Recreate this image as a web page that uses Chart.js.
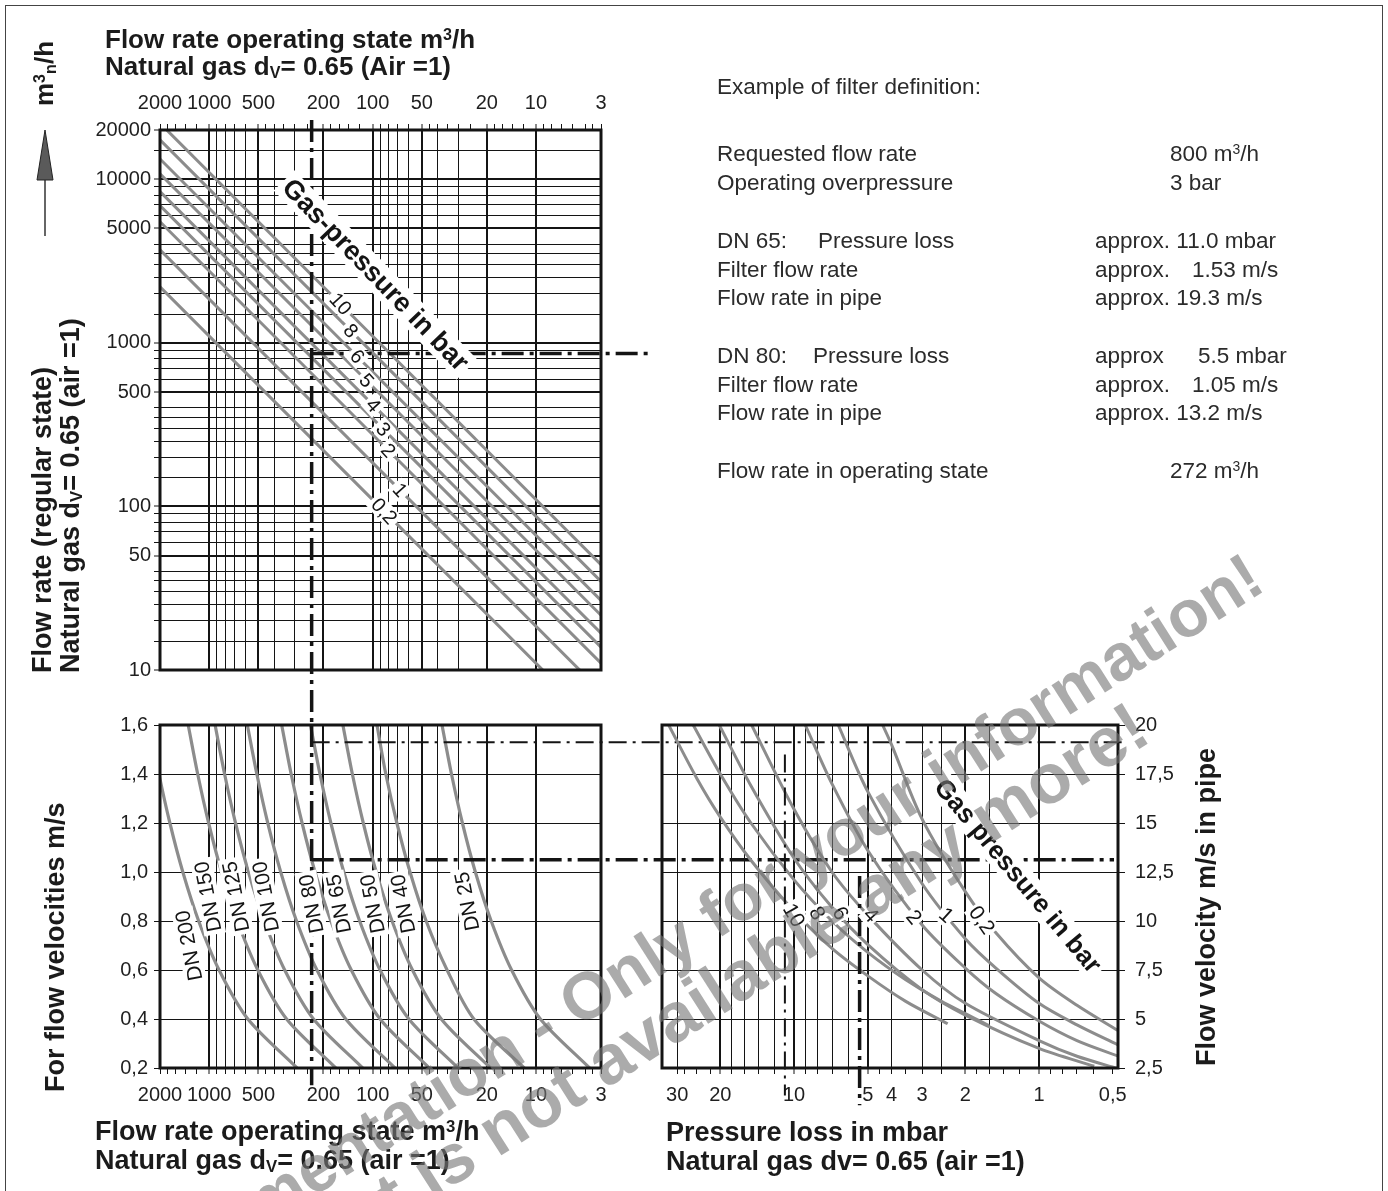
<!DOCTYPE html>
<html>
<head>
<meta charset="utf-8">
<title>Filter selection diagram</title>
<script src="https://cdn.jsdelivr.net/npm/chart.js@4.4.1/dist/chart.umd.min.js"></script>
<style>
  html, body { margin:0; padding:0; background:#fff; }
  #page { position:relative; width:1388px; height:1191px; overflow:hidden; background:#fff;
          font-family:'Liberation Sans', Arial, Helvetica, sans-serif; color:#1b1b1b; }
  #page canvas { position:absolute; left:0; top:0; }
  .border { position:absolute; left:5px; top:5px; width:1378px; height:1200px; border:1.5px solid #444; box-sizing:border-box; }
  .txt { position:absolute; white-space:nowrap; }
  .bold { font-weight:700; font-size:26px; line-height:27px; }
  .axt { font-weight:700; font-size:27px; line-height:28px; }
  .rot { transform-origin:0 0; transform:rotate(-90deg); }
  .info { font-size:22.5px; line-height:29px; color:#2b2b2b; }
  .wm { position:absolute; white-space:nowrap; font-weight:700; line-height:1;
        color:rgba(120,120,120,0.62); pointer-events:none; transform-origin:50% 50%; }
  sup { font-size:0.62em; vertical-align:0.5em; line-height:0; }
  sub { font-size:0.62em; vertical-align:-0.2em; line-height:0; }
</style>
</head>
<body>
<div id="page">
  <canvas id="cTop" width="1388" height="1191"></canvas>
  <canvas id="cVel" width="1388" height="1191"></canvas>
  <canvas id="cPipe" width="1388" height="1191"></canvas>
  <div class="border"></div>

  <!-- titles -->
  <div class="txt bold" style="left:105px; top:26px;">Flow rate operating state m<sup>3</sup>/h<br>Natural gas d<sub>V</sub>= 0.65 (Air =1)</div>
  <div class="txt bold rot" style="left:31px; top:106px;">m<sup>3</sup><sub>n</sub>/h</div>
  <svg style="position:absolute; left:30px; top:125px;" width="32" height="115">
    <line x1="15" y1="52" x2="15" y2="111" stroke="#333" stroke-width="1.5"/>
    <polygon points="7,55 23,55 15,5" fill="#5a5a5a" stroke="#222" stroke-width="1"/>
  </svg>
  <div class="txt axt rot" style="left:28px; top:673px;">Flow rate (regular state)<br>Natural gas d<sub>V</sub>= 0.65 (air =1)</div>
  <div class="txt axt rot" style="left:41px; top:1092px;">For flow velocities m/s</div>
  <div class="txt axt rot" style="left:1192px; top:1066px;">Flow velocity m/s in pipe</div>
  <div class="txt axt" style="left:95px; top:1117px; line-height:29px;">Flow rate operating state m<sup>3</sup>/h<br>Natural gas d<sub>V</sub>= 0.65 (air =1)</div>
  <div class="txt axt" style="left:666px; top:1118px; line-height:29px;">Pressure loss in mbar<br>Natural gas dv= 0.65 (air =1)</div>

  <!-- example block -->
  <div class="txt info" style="left:717px; top:72px;">Example of filter definition:</div>
  <div class="txt info" style="left:717px; top:139px;">Requested flow rate</div>
  <div class="txt info" style="left:1170px; top:139px;">800 m<sup>3</sup>/h</div>
  <div class="txt info" style="left:717px; top:168px;">Operating overpressure</div>
  <div class="txt info" style="left:1170px; top:168px;">3 bar</div>

  <div class="txt info" style="left:717px; top:226px;">DN 65:</div>
  <div class="txt info" style="left:818px; top:226px;">Pressure loss</div>
  <div class="txt info" style="left:1095px; top:226px;">approx. 11.0 mbar</div>
  <div class="txt info" style="left:717px; top:255px;">Filter flow rate</div>
  <div class="txt info" style="left:1095px; top:255px;">approx.</div>
  <div class="txt info" style="left:1192px; top:255px;">1.53 m/s</div>
  <div class="txt info" style="left:717px; top:283px;">Flow rate in pipe</div>
  <div class="txt info" style="left:1095px; top:283px;">approx. 19.3 m/s</div>

  <div class="txt info" style="left:717px; top:341px;">DN 80:</div>
  <div class="txt info" style="left:813px; top:341px;">Pressure loss</div>
  <div class="txt info" style="left:1095px; top:341px;">approx</div>
  <div class="txt info" style="left:1198px; top:341px;">5.5 mbar</div>
  <div class="txt info" style="left:717px; top:370px;">Filter flow rate</div>
  <div class="txt info" style="left:1095px; top:370px;">approx.</div>
  <div class="txt info" style="left:1192px; top:370px;">1.05 m/s</div>
  <div class="txt info" style="left:717px; top:398px;">Flow rate in pipe</div>
  <div class="txt info" style="left:1095px; top:398px;">approx. 13.2 m/s</div>

  <div class="txt info" style="left:717px; top:456px;">Flow rate in operating state</div>
  <div class="txt info" style="left:1170px; top:456px;">272 m<sup>3</sup>/h</div>

  <!-- watermark -->
  <div class="wm" id="wm1" style="font-size:66px;">Documentation - Only for your information!</div>
  <div class="wm" id="wm2" style="font-size:70px;">Product is not available any more!</div>
</div>

<script>
// ================= DATA =================
// --- Top diagram: operating flow (x, m³/h) vs regular flow (y, m³n/h)
const opFlowLabelValues = [2000, 1000, 500, 200, 100, 50, 20, 10, 4];
const opFlowLabels      = ['2000', '1000', '500', '200', '100', '50', '20', '10', '3'];
const opFlowGridValues  = [1000, 900, 800, 700, 600, 500, 400, 300, 200, 100, 90, 80, 70, 60, 50, 40, 30, 20, 10];
const opFlowThickValues = [1000, 500, 200, 100, 50, 20, 10];
const opFlowTickMarks   = [2000, 1800, 1600, 1400, 1200, 1000, 900, 800, 700, 600, 500, 450, 400, 350, 300, 250,
                           200, 180, 160, 140, 120, 100, 90, 80, 70, 60, 50, 45, 40, 35, 30, 25, 20, 18, 16, 14, 12,
                           10, 9, 8, 7, 6, 5, 4.5, 4];

const regFlowLabelValues = [20000, 10000, 5000, 1000, 500, 100, 50, 10];
const regFlowTickMarks   = [20000, 15000, 10000, 9000, 8000, 7000, 6000, 5000, 4000, 3500, 3000, 2500, 2000, 1500,
                            1000, 900, 800, 700, 600, 500, 400, 350, 300, 250, 200, 150,
                            100, 90, 80, 70, 60, 50, 40, 35, 30, 25, 20, 15, 10];

const gasPressureLabels = ['10', '8', '6', '5', '4', '3', '2', '1', '0,2'];
const regFlowAtOp2000   = [22000, 17400, 13300, 10800, 8400, 6900, 5500, 3700, 2200];
const regFlowAtOp4      = [44, 34.8, 26.6, 21.6, 16.8, 13.8, 11, 7.4, 4.4];
const gasLabelOpFlow    = [157, 136, 124, 109, 99, 86, 80, 68, 85];

// --- Example guide values
const exampleOpFlow   = 236;    // m³/h (operating state)
const exampleRegFlow  = 860;    // m³n/h
const exampleFilterVelocity = [1.53, 1.05];   // m/s (DN 65, DN 80)
const examplePressureLoss   = [10.9, 5.4];    // mbar (DN 65, DN 80)

// --- Lower left: filter flow velocity per nominal size
const dnNames = ['DN 200', 'DN 150', 'DN 125', 'DN 100', 'DN 80', 'DN 65', 'DN 50', 'DN 40', 'DN 25'];
const dnVelocitySteps = [1.6, 1.4, 1.2, 1.0, 0.8, 0.6, 0.4, 0.2];
const dnFlow = [
  [2320, 2030, 1740, 1450, 1160, 870, 580, 290],
  [1344, 1176, 1008, 840, 672, 504, 336, 168],
  [920, 805, 690, 575, 460, 345, 230, 115],
  [584, 511, 438, 365, 292, 219, 146, 73],
  [360, 315, 270, 225, 180, 135, 90, 45],
  [240, 210, 180, 150, 120, 90, 60, 30],
  [152, 133, 114, 95, 76, 57, 38, 19],
  [94, 83, 71, 59, 47, 35, 24, 11.8],
  [37.6, 32.9, 28.2, 23.5, 18.8, 14.1, 9.4, 4.7]
];
const dnLabelFlow     = [1330, 1018, 686, 450, 237, 161, 100, 65, 26.4];
const dnLabelVelocity = [0.70, 0.90, 0.90, 0.90, 0.87, 0.87, 0.87, 0.87, 0.88];

// --- Lower right: pressure loss (x, mbar) vs pipe velocity (y, m/s)
const lossLabelValues = [30, 20, 10, 5, 4, 3, 2, 1, 0.5];
const lossLabels      = ['30', '20', '10', '5', '4', '3', '2', '1', '0,5'];
const lossGridValues  = [30, 20, 18, 16, 14, 12, 10, 9, 8, 7, 6, 5, 4, 3, 2.5, 2, 1.6, 1];
const lossThickValues = [20, 10, 5, 2, 1];
const lossTickMarks   = [30, 28, 25, 22, 20, 18, 16, 14, 12, 10, 9, 8, 7, 6, 5, 4.5, 4, 3.5, 3, 2.5, 2,
                         1.8, 1.6, 1.4, 1.2, 1, 0.9, 0.8, 0.7, 0.6, 0.5];

const pipePressureLabels = ['10', '8', '6', '4', '2', '1', '0,2'];
const pipeCurves = [
  [[32.5, 20], [25, 17.3], [20, 15.3], [15, 13.1], [10, 10.5], [7, 8.6], [5, 7.2], [3.5, 5.9], [2.36, 4.76]],
  [[25.8, 20], [20, 17.5], [15, 15.0], [10, 12.1], [7, 10.0], [5, 8.4], [3.5, 7.0], [2.5, 5.9], [1.6, 4.67]],
  [[20.2, 20], [15, 16.9], [10, 13.2], [7, 10.7], [5, 8.8], [3, 6.5], [2, 5.2], [1, 3.5], [0.595, 2.59]],
  [[14.9, 20], [10, 15.7], [7, 12.5], [5, 10.3], [3, 7.5], [2, 5.8], [1, 3.9], [0.7, 3.1], [0.476, 2.47]],
  [[9.0, 20], [7, 17.0], [5, 13.6], [3, 9.8], [2, 7.6], [1.5, 6.3], [1, 4.9], [0.7, 3.9], [0.476, 3.11]],
  [[6.6, 20], [5, 16.6], [3, 11.9], [2, 9.1], [1.5, 7.6], [1, 5.8], [0.7, 4.7], [0.476, 3.68]],
  [[4.35, 20], [4, 19.0], [3, 15.2], [2, 11.5], [1.5, 9.4], [1, 7.1], [0.7, 5.7], [0.476, 4.41]]
];
const pipeLabelLoss     = [10, 8.04, 6.46, 4.85, 3.24, 2.39, 1.71];
const pipeLabelVelocity = [10.3, 10.4, 10.4, 10.3, 10.2, 10.3, 10.05];
const pipeLabelAngle    = [60, 60, 60, 48, 50, 42, 55];

// ================= RENDERING =================
Chart.defaults.font.family = "'Liberation Sans', Arial, Helvetica, sans-serif";
Chart.defaults.font.size = 20;
Chart.defaults.color = '#1f1f1f';

const INK = '#141414';
const CURVE = '#8c8c8c';

const framePlugin = {
  id: 'frame',
  afterDatasetsDraw(chart) {
    const { ctx, chartArea: a } = chart;
    ctx.save();
    ctx.strokeStyle = INK; ctx.lineWidth = 3;
    ctx.strokeRect(a.left, a.top, a.right - a.left, a.bottom - a.top);
    ctx.restore();
  }
};

const labelPlugin = {
  id: 'curveLabels',
  afterDatasetsDraw(chart, args, opts) {
    const { ctx } = chart;
    const xs = chart.scales.x, ys = chart.scales.y;
    (opts.items || []).forEach(it => {
      const px = xs.getPixelForValue(it.x), py = ys.getPixelForValue(it.y);
      ctx.save();
      ctx.translate(px, py);
      ctx.rotate(it.rot * Math.PI / 180);
      ctx.font = it.font;
      const w = ctx.measureText(it.text).width;
      ctx.fillStyle = '#fff';
      ctx.fillRect(-w / 2 - it.pad, -it.h / 2, w + 2 * it.pad, it.h);
      ctx.fillStyle = INK;
      ctx.textAlign = 'center'; ctx.textBaseline = 'middle';
      ctx.fillText(it.text, 0, 1);
      ctx.restore();
    });
  }
};

function guide(points, width) {
  return {
    data: points, borderColor: INK, borderWidth: width,
    borderDash: width > 2.5 ? [22, 6, 4, 6] : [18, 6, 3, 6],
    pointRadius: 0, fill: false, tension: 0, clip: false, order: 0, borderCapStyle: 'butt'
  };
}
function curve(points, width) {
  return { data: points, borderColor: CURVE, borderWidth: width, pointRadius: 0, fill: false, tension: 0.3, order: 1 };
}

function opFlowAxis(position) {
  return {
    type: 'logarithmic', position, reverse: true, min: 4, max: 2000,
    afterBuildTicks: s => { s.ticks = opFlowTickMarks.map(v => ({ value: v })); },
    afterFit: s => { s.height = 40; },
    ticks: {
      autoSkip: false, maxRotation: 0, minRotation: 0, padding: 9, color: '#1f1f1f',
      callback: v => { const i = opFlowLabelValues.indexOf(v); return i >= 0 ? opFlowLabels[i] : ''; }
    },
    grid: {
      color: c => (c.tick && opFlowGridValues.includes(c.tick.value)) ? INK : 'rgba(0,0,0,0)',
      lineWidth: c => (c.tick && opFlowThickValues.includes(c.tick.value)) ? 2 : 1,
      tickColor: INK, tickLength: 6, tickWidth: 1
    },
    border: { display: false }
  };
}

const baseOpts = (padding) => ({
  responsive: false, animation: false, devicePixelRatio: 1, events: [],
  layout: { padding },
  plugins: { legend: { display: false }, tooltip: { enabled: false } }
});

// ---------- Top chart ----------
const topDatasets = [
  guide([{ x: exampleOpFlow, y: 23000 }, { x: exampleOpFlow, y: 4.6 }], 3.5),
  guide([{ x: exampleOpFlow, y: exampleRegFlow }, { x: 1.95, y: exampleRegFlow }], 3.5)
];
gasPressureLabels.forEach((p, i) => {
  topDatasets.push(curve([{ x: 2000, y: regFlowAtOp2000[i] }, { x: 4, y: regFlowAtOp4[i] }], 3));
});
function onLine(i, q) {
  const t = Math.log(2000 / q) / Math.log(2000 / 4);
  return Math.exp(Math.log(regFlowAtOp2000[i]) + t * (Math.log(regFlowAtOp4[i]) - Math.log(regFlowAtOp2000[i])));
}
const topLabels = gasPressureLabels.map((p, i) => ({
  x: gasLabelOpFlow[i], y: onLine(i, gasLabelOpFlow[i]), text: p, rot: 48, font: '20px "Liberation Sans", Arial', pad: 3, h: 19
}));
topLabels.push({ x: 96, y: 2600, text: 'Gas-pressure in bar', rot: 46, font: 'bold 27px "Liberation Sans", Arial', pad: 4, h: 29 });

const topOpts = baseOpts({ left: 96, top: 90, right: 787, bottom: 521 });
topOpts.plugins.curveLabels = { items: topLabels };
topOpts.scales = {
  x: opFlowAxis('top'),
  y: {
    type: 'logarithmic', position: 'left', min: 10, max: 20000,
    afterBuildTicks: s => { s.ticks = regFlowTickMarks.map(v => ({ value: v })); },
    afterFit: s => { s.width = 64; },
    ticks: { autoSkip: false, padding: 3, color: '#1f1f1f',
             callback: v => regFlowLabelValues.includes(v) ? String(v) : '' },
    grid: {
      color: INK,
      lineWidth: c => (c.tick && regFlowLabelValues.includes(c.tick.value)) ? 2 : 1,
      tickColor: INK, tickLength: 6, tickWidth: 1
    },
    border: { display: false }
  }
};
new Chart(document.getElementById('cTop'), {
  type: 'line', data: { datasets: topDatasets }, options: topOpts, plugins: [framePlugin, labelPlugin]
});

// ---------- Lower left chart ----------
const velDatasets = [
  guide([{ x: exampleOpFlow, y: 1.6 }, { x: exampleOpFlow, y: 0.13 }], 3.5),
  guide([{ x: exampleOpFlow, y: exampleFilterVelocity[0] }, { x: 0.0024, y: exampleFilterVelocity[0] }], 2),
  guide([{ x: exampleOpFlow, y: exampleFilterVelocity[1] }, { x: 0.0029, y: exampleFilterVelocity[1] }], 3.5)
];
dnNames.forEach((n, i) => {
  velDatasets.push(curve(dnVelocitySteps.map((v, k) => ({ x: dnFlow[i][k], y: v })), 3.2));
});
const velLabels = dnNames.map((n, i) => ({
  x: dnLabelFlow[i], y: dnLabelVelocity[i], text: n, rot: -101, font: '21px "Liberation Sans", Arial', pad: 3, h: 22
}));
const velOpts = baseOpts({ left: 96, top: 725, right: 787, bottom: 83 });
velOpts.plugins.curveLabels = { items: velLabels };
velOpts.scales = {
  x: opFlowAxis('bottom'),
  y: {
    type: 'linear', position: 'left', min: 0.2, max: 1.6,
    afterFit: s => { s.width = 64; },
    ticks: { stepSize: 0.2, padding: 6, color: '#1f1f1f', callback: v => v.toFixed(1).replace('.', ',') },
    grid: { color: INK, lineWidth: 1, tickColor: INK, tickLength: 6 },
    border: { display: false }
  }
};
new Chart(document.getElementById('cVel'), {
  type: 'line', data: { datasets: velDatasets }, options: velOpts, plugins: [framePlugin, labelPlugin]
});

// ---------- Lower right chart ----------
const pipeDatasets = [
  guide([{ x: examplePressureLoss[0], y: 18.5 }, { x: examplePressureLoss[0], y: 1.1 }], 2),
  guide([{ x: examplePressureLoss[1], y: 12.3 }, { x: examplePressureLoss[1], y: 0.6 }], 3.5)
];
pipeCurves.forEach(c => pipeDatasets.push(curve(c.map(p => ({ x: p[0], y: p[1] })), 3)));
const pipeLabels = pipePressureLabels.map((p, i) => ({
  x: pipeLabelLoss[i], y: pipeLabelVelocity[i], text: p, rot: pipeLabelAngle[i], font: '21px "Liberation Sans", Arial', pad: 2, h: 21
}));
pipeLabels.push({ x: 1.22, y: 12.3, text: 'Gas pressure in bar', rot: 50, font: 'bold 26px "Liberation Sans", Arial', pad: 4, h: 28 });

const pipeOpts = baseOpts({ left: 662, top: 725, right: 200, bottom: 83 });
pipeOpts.plugins.curveLabels = { items: pipeLabels };
pipeOpts.scales = {
  x: {
    type: 'logarithmic', position: 'bottom', reverse: true, min: 0.476, max: 34.6,
    afterBuildTicks: s => { s.ticks = lossTickMarks.map(v => ({ value: v })); },
    afterFit: s => { s.height = 40; },
    ticks: { autoSkip: false, maxRotation: 0, minRotation: 0, padding: 9, color: '#1f1f1f',
             callback: v => { const i = lossLabelValues.indexOf(v); return i >= 0 ? lossLabels[i] : ''; } },
    grid: {
      color: c => (c.tick && lossGridValues.includes(c.tick.value)) ? INK : 'rgba(0,0,0,0)',
      lineWidth: c => (c.tick && lossThickValues.includes(c.tick.value)) ? 2 : 1,
      tickColor: INK, tickLength: 6, tickWidth: 1
    },
    border: { display: false }
  },
  y: {
    type: 'linear', position: 'right', min: 2.5, max: 20,
    afterFit: s => { s.width = 70; },
    ticks: { stepSize: 2.5, padding: 10, color: '#1f1f1f',
             callback: v => Number.isInteger(v) ? String(v) : v.toFixed(1).replace('.', ',') },
    grid: { color: INK, lineWidth: 1, tickColor: INK, tickLength: 7 },
    border: { display: false }
  }
};
new Chart(document.getElementById('cPipe'), {
  type: 'line', data: { datasets: pipeDatasets }, options: pipeOpts, plugins: [framePlugin, labelPlugin]
});

// ---------- watermark placement ----------
function placeWm(id, cx, cy) {
  const el = document.getElementById(id);
  el.style.left = cx + 'px'; el.style.top = cy + 'px';
  el.style.transform = 'translate(-50%, -50%) rotate(-32.5deg)';
}
placeWm('wm1', 683, 934);
placeWm('wm2', 660, 1026);
</script>
</body>
</html>
